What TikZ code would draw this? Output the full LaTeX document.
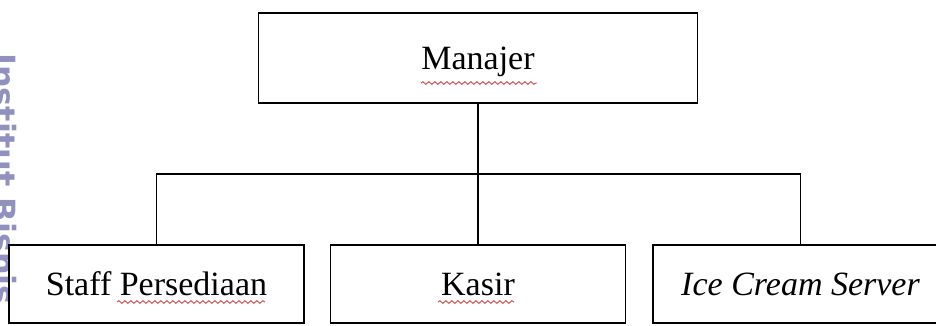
\documentclass[tikz,border=0pt]{standalone}
\usepackage{fontspec}
\setmainfont{Liberation Serif}
\newfontfamily\tandafont{DejaVu Sans}
\usetikzlibrary{positioning,decorations.pathmorphing}
\definecolor{tanda}{RGB}{145,145,192}
\definecolor{ejaan}{RGB}{205,70,70}
\tikzstyle{jabatan} = [draw, line width=1.8pt, minimum width=295pt, minimum height=78pt, inner sep=0pt, font=\fontsize{34}{40}\selectfont]
\tikzstyle{garis} = [line width=1.5pt, line join=miter]
\tikzstyle{salah} = [draw=ejaan, line width=0.9pt, decorate, decoration={snake, segment length=6pt, amplitude=1.3pt}]

\begin{document}
\begin{tikzpicture}[x=1pt, y=-1pt]
    \useasboundingbox (0,0) rectangle (936,325);
    \clip (0,0) rectangle (936,325);
    % tanda air di tepi kiri
    \node[anchor=north west, rotate=-90, inner sep=0pt, text=tanda,
          font=\tandafont\bfseries\fontsize{32}{32}\selectfont] (air) at (17,53) {Institut Bisnis};
    % kotak jabatan
    \node[jabatan, minimum width=439pt, minimum height=90pt, text depth=0pt] (man) at (478,58) {Manajer};
    \node[jabatan] (staff) at (156.5,284) {Staff Persediaan};
    \node[jabatan] (kasir) at (478,284) {Kasir};
    \node[jabatan] (ice) at (800.5,284) {\itshape Ice Cream Server};
    % garis hubung
    \coordinate (cabang) at (478,174);
    \draw[garis] (man.south) -- (cabang);
    \draw[garis] (staff.north) |- (cabang) -| (ice.north);
    \draw[garis] (cabang) -- (kasir.north);
    % garis ejaan
    \draw[salah] (421,83) -- (537,83);
    \draw[salah] (117,302) -- (265,302);
    \draw[salah] (438,302) -- (514,302);
\end{tikzpicture}
\end{document}
